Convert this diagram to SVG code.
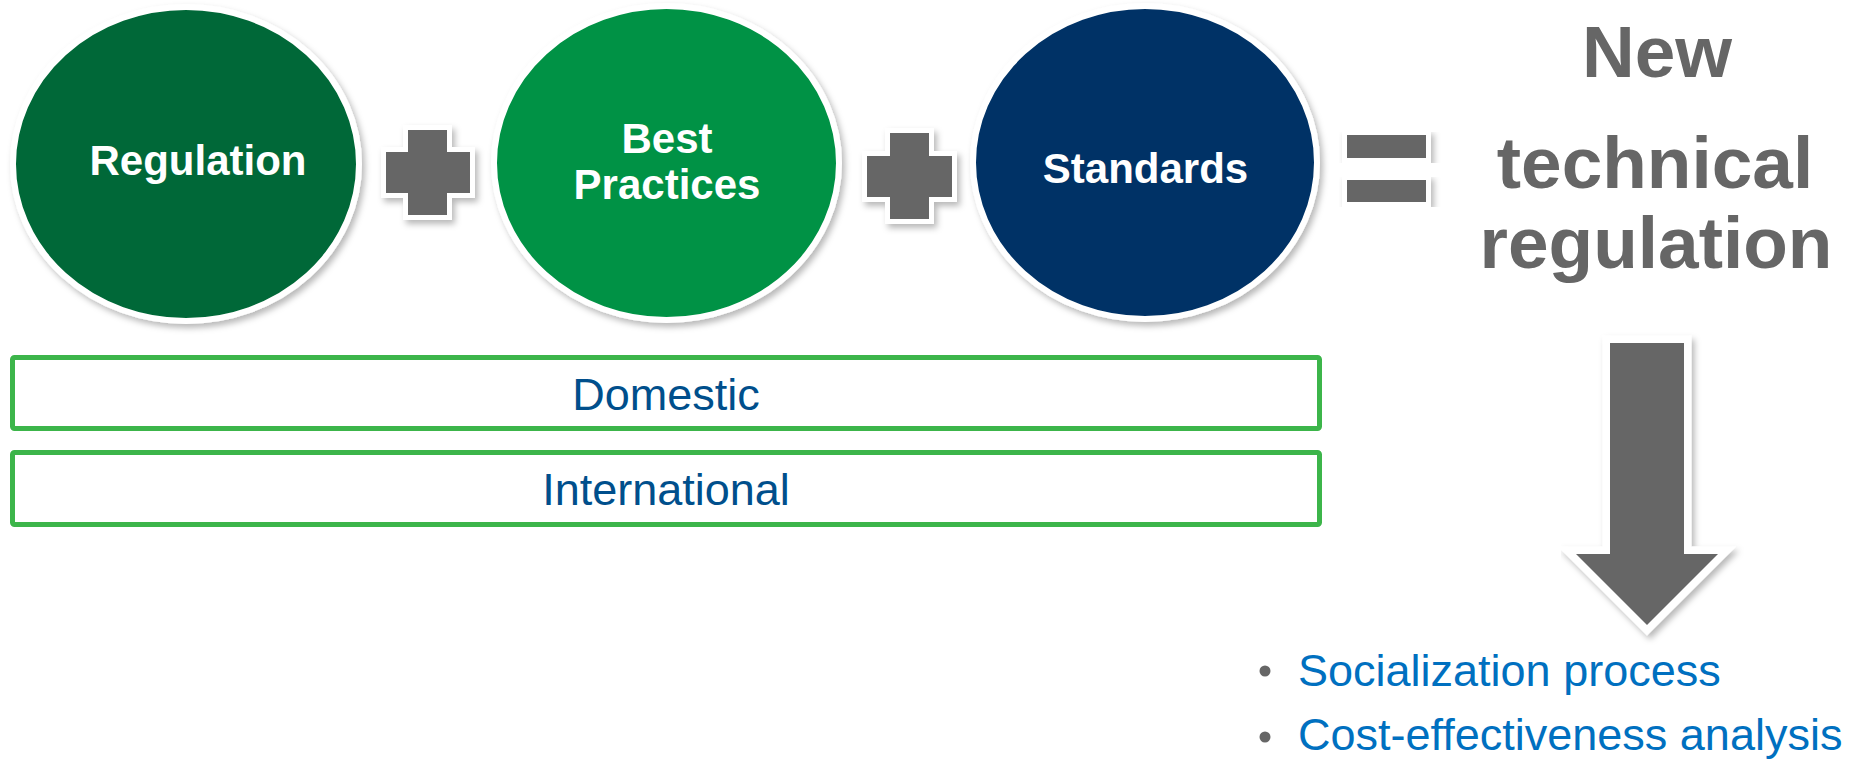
<svg xmlns="http://www.w3.org/2000/svg" width="1851" height="760" viewBox="0 0 1851 760">
  <defs>
    <filter id="sh" x="-10%" y="-10%" width="130%" height="130%">
      <feDropShadow dx="3" dy="4" stdDeviation="3" flood-color="#000" flood-opacity="0.28"/>
    </filter>
    <style>
      .circ { stroke: #ffffff; stroke-width: 6; filter: url(#sh); }
      .ctext { font-family: "Liberation Sans", Arial, sans-serif; font-weight: bold; font-size: 42px; fill: #ffffff; text-anchor: middle; }
      .op { fill: #666666; stroke: #ffffff; stroke-width: 10; paint-order: stroke; stroke-linejoin: miter; filter: url(#sh); }
      .box { fill: #ffffff; stroke: #3CB54A; stroke-width: 5; }
      .btext { font-family: "Liberation Sans", Arial, sans-serif; font-size: 45px; fill: #004F8C; text-anchor: middle; }
      .big { font-family: "Liberation Sans", Arial, sans-serif; font-weight: bold; font-size: 73px; fill: #666666; text-anchor: middle; }
      .bul { font-family: "Liberation Sans", Arial, sans-serif; font-size: 45px; fill: #0070C0; }
      .dot { fill: #666666; }
    </style>
  </defs>
  <rect width="1851" height="760" fill="#ffffff"/>

  <g id="regulation">
    <ellipse class="circ" cx="186" cy="164" rx="173" ry="157" fill="#006837"/>
    <text class="ctext" x="198" y="175">Regulation</text>
  </g>

  <g id="plus1">
    <path class="op" d="M408,130 H447 V152 H470 V193 H447 V215 H408 V193 H386 V152 H408 Z"/>
  </g>

  <g id="best-practices">
    <ellipse class="circ" cx="666.5" cy="163" rx="172.5" ry="157" fill="#009245"/>
    <text class="ctext" x="667" y="153">Best</text>
    <text class="ctext" x="667" y="199">Practices</text>
  </g>

  <g id="plus2">
    <path class="op" d="M890,133 H929 V156 H952 V197 H929 V219 H890 V197 H867 V156 H890 Z"/>
  </g>

  <g id="standards">
    <ellipse class="circ" cx="1145" cy="162.5" rx="172" ry="156.5" fill="#003366"/>
    <text class="ctext" x="1145.5" y="183">Standards</text>
  </g>

  <g id="equals">
    <rect class="op" x="1347" y="135" width="79" height="23"/>
    <rect class="op" x="1347" y="180" width="79" height="22"/>
  </g>

  <g id="new-technical-regulation">
    <text class="big" x="1657" y="77">New</text>
    <text class="big" x="1655" y="188">technical</text>
    <text class="big" x="1656" y="268">regulation</text>
  </g>

  <g id="domestic">
    <rect class="box" x="12.5" y="357.5" width="1307" height="71" rx="2"/>
    <text class="btext" x="666" y="410">Domestic</text>
  </g>

  <g id="international">
    <rect class="box" x="12.5" y="452.5" width="1307" height="72" rx="2"/>
    <text class="btext" x="666" y="505">International</text>
  </g>

  <g id="connectors">
    <polygon class="op" style="stroke-width:15" points="1610,343 1684,343 1684,554 1718,554 1647,625 1576,554 1610,554"/>
  </g>

  <g id="outcomes">
    <circle class="dot" cx="1265" cy="671" r="5.5"/>
    <text class="bul" x="1298" y="686">Socialization process</text>
    <circle class="dot" cx="1265" cy="737" r="5.5"/>
    <text class="bul" x="1298" y="750">Cost-effectiveness analysis</text>
  </g>
</svg>
